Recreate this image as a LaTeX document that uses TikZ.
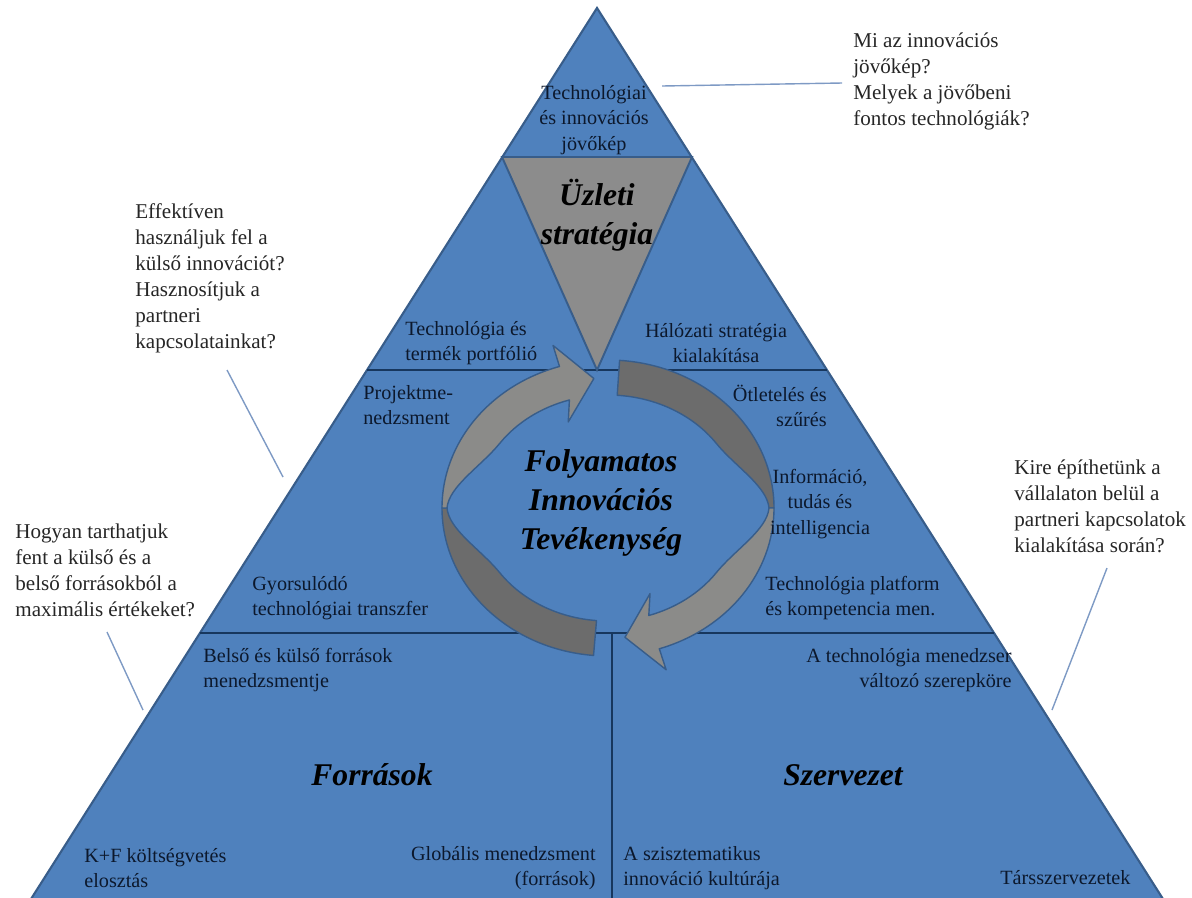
\documentclass[tikz,border=0pt]{standalone}
\usepackage{fontspec}
\setmainfont{Liberation Serif}
\definecolor{pyrblue}{RGB}{79,129,189}
\definecolor{pyredge}{RGB}{56,93,138}
\definecolor{divline}{RGB}{23,55,94}
\definecolor{stratgray}{RGB}{140,140,140}
\definecolor{arrlight}{RGB}{139,139,137}
\definecolor{arrdark}{RGB}{108,108,108}
\definecolor{lbltext}{RGB}{12,24,44}
\definecolor{calloutcol}{RGB}{126,154,196}
\tikzset{
  lbl/.style={inner sep=0pt, text=lbltext, font=\fontsize{11.5}{14.5}\selectfont},
  quest/.style={inner sep=0pt, align=left, anchor=west, text=black!85,
    font=\fontsize{12}{14.8}\selectfont},
  bigital/.style={inner sep=0pt, align=center, text=black,
    font=\fontsize{18}{22}\selectfont\bfseries\itshape},
  callout/.style={draw=calloutcol, line width=0.8pt},
  arrband/.style={draw=pyredge, line width=0.8pt, line join=round},
}
\begin{document}
\begin{tikzpicture}[x=0.02cm, y=-0.02cm]
  \clip (0,0) rectangle (1192,897);
  % pyramid and its sections
  \draw[fill=pyrblue, draw=pyredge, line width=1.2pt] (597,8) -- (1170,910) -- (24,910) -- cycle;
  \draw[divline, line width=0.9pt] (367,370) -- (827,370);
  \draw[divline, line width=0.9pt] (200,633) -- (994,633);
  \draw[divline, line width=0.9pt] (612,633) -- (612,905);
  \draw[fill=stratgray, draw=pyredge, line width=1.1pt] (502,157) -- (692,157) -- (597,370) -- cycle;

  % circular arrows, each one a twisted band: dark back face, light front face
  \begin{scope}[shift={(608,508)}]
    % left arrow
    \draw[arrband, fill=arrdark] (95:166 and 148)
      arc[start angle=95, end angle=180, x radius=166, y radius=148] -- (-161,0)
      .. controls (-159,22) and (-127,41.6) .. (145:132 and 113)
      arc[start angle=145, end angle=95, x radius=132, y radius=113] -- cycle;
    \draw[arrband, fill=arrlight] (180:166 and 148)
      arc[start angle=180, end angle=253, x radius=166, y radius=148]
      -- (253:188 and 170) -- (265:162 and 130) -- (253:136 and 90) -- (253:132 and 113)
      arc[start angle=253, end angle=215, x radius=132, y radius=113]
      .. controls (-127,-41.6) and (-159,-22) .. (-161,0) -- cycle;
    % right arrow
    \draw[arrband, fill=arrdark] (274:166 and 148)
      arc[start angle=274, end angle=360, x radius=166, y radius=148] -- (161,0)
      .. controls (159,-22) and (127,-41.6) .. (325:132 and 113)
      arc[start angle=325, end angle=274, x radius=132, y radius=113] -- cycle;
    \draw[arrband, fill=arrlight] (0:166 and 148)
      arc[start angle=0, end angle=72, x radius=166, y radius=148]
      -- (72:188 and 170) -- (84:162 and 130) -- (72:136 and 90) -- (72:132 and 113)
      arc[start angle=72, end angle=35, x radius=132, y radius=113]
      .. controls (127,41.6) and (159,22) .. (161,0) -- cycle;
  \end{scope}

  % labels inside the pyramid
  \node[lbl, align=center] (visio) at (594,120) {Technológiai\\és innovációs\\jövőkép};
  \node[bigital] (uzlet) at (597,215) {Üzleti\\stratégia};
  \node[lbl, align=left, anchor=west] (portf) at (405,343) {Technológia és\\termék portfólió};
  \node[lbl, align=center] (halozat) at (716,343) {Hálózati stratégia\\kialakítása};
  \node[lbl, align=left, anchor=west] (projekt) at (363,405) {Projektme-\\nedzsment};
  \node[lbl, align=right, anchor=east] (otlet) at (827,406) {Ötletelés és\\szűrés};
  \node[lbl, align=center] (info) at (820,504) {Információ,\\tudás és\\intelligencia};
  \node[lbl, align=left, anchor=west] (platform) at (765,598) {Technológia platform\\és kompetencia men.};
  \node[lbl, align=left, anchor=west] (gyors) at (252,598) {Gyorsulódó\\technológiai transzfer};
  \node[bigital] (folyam) at (601,503) {Folyamatos\\Innovációs\\Tevékenység};
  \node[lbl, align=left, anchor=west] (belso) at (203,670) {Belső és külső források\\menedzsmentje};
  \node[lbl, align=right, anchor=east] (techmen) at (1012,670) {A technológia menedzser\\változó szerepköre};
  \node[bigital] (forras) at (372,775) {Források};
  \node[bigital] (szerv) at (843,775) {Szervezet};
  \node[lbl, align=left, anchor=west] (kf) at (84,868) {K+F költségvetés\\elosztás};
  \node[lbl, align=right, anchor=east] (glob) at (596,868) {Globális menedzsment\\(források)};
  \node[lbl, align=left, anchor=west] (sziszt) at (623,868) {A szisztematikus\\innováció kultúrája};
  \node[lbl, anchor=west] (tars) at (1000,878) {Társszervezetek};

  % questions around the pyramid
  \node[quest] (qvisio) at (853,81) {Mi az innovációs\\jövőkép?\\Melyek a jövőbeni\\fontos technológiák?};
  \node[quest] (qeff) at (135,278) {Effektíven\\használjuk fel a\\külső innovációt?\\Hasznosítjuk a\\partneri\\kapcsolatainkat?};
  \node[quest] (qhogy) at (15,570) {Hogyan tarthatjuk\\fent a külső és a\\belső forrásokból a\\maximális értékeket?};
  \node[quest] (qkire) at (1014,506) {Kire építhetünk a\\vállalaton belül a\\partneri kapcsolatok\\kialakítása során?};

  \coordinate (visioA) at (662,86);  \coordinate (visioB) at (842,83);
  \coordinate (effA) at (227,370);   \coordinate (effB) at (283,477);
  \coordinate (hogyA) at (107,632);  \coordinate (hogyB) at (143,710);
  \coordinate (kireA) at (1107,568); \coordinate (kireB) at (1052,710);
  \foreach \q in {visio,eff,hogy,kire}
    \draw[callout] (\q A) -- (\q B);
\end{tikzpicture}
\end{document}
